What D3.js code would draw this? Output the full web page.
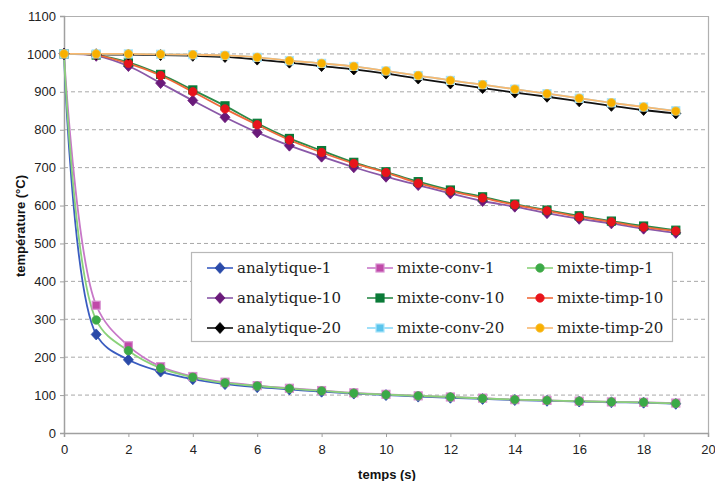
<!DOCTYPE html>
<html><head><meta charset="utf-8">
<script src="https://cdn.jsdelivr.net/npm/d3@7"></script>
<style>body{margin:0;background:#fff}svg{display:block}</style>
</head><body>
<script>
const times = [0,1,2,3,4,5,6,7,8,9,10,11,12,13,14,15,16,17,18,19];
const xTicks = [0,2,4,6,8,10,12,14,16,18,20];
const yTicks = [0,100,200,300,400,500,600,700,800,900,1000,1100];

const analytique1 = [1000,260,193,162,142,129,121,115,109,104,100,96,93,90,87,85,83,81,80,77];
const mixteConv1  = [1000,337,230,175,149,134,125,118,112,106,102,98,95,92,88,86,84,82,81,79];
const mixteTimp1  = [1000,298,217,171,147,132,124,117,111,105,101,98,95,91,88,86,84,82,81,78];

const analytique10 = [1000,995,968,923,877,833,793,758,729,701,676,654,632,612,597,580,565,553,539,528];
const mixteConv10  = [1000,997,978,946,905,863,817,777,745,714,689,663,641,623,604,588,573,559,546,535];
const mixteTimp10  = [1000,997,975,943,900,855,813,773,740,711,687,659,638,620,602,586,570,557,543,533];

const analytique20 = [1000,999,998,997,995,992,985,977,968,959,948,935,922,910,898,887,875,863,852,843];
const mixteConv20  = [1000,1000,1000,999,998,996,991,982,975,967,955,943,930,919,907,895,883,871,860,850];
const mixteTimp20  = [1000,1000,1000,999,998,996,991,982,975,967,955,943,930,919,907,895,883,871,860,849];

const seriesNames = ["analytique-1","mixte-conv-1","mixte-timp-1","analytique-10","mixte-conv-10","mixte-timp-10","analytique-20","mixte-conv-20","mixte-timp-20"];
const seriesValues = [analytique1,mixteConv1,mixteTimp1,analytique10,mixteConv10,mixteTimp10,analytique20,mixteConv20,mixteTimp20];
const lineColors = ["#3a5cc0","#c878c8","#8ad27a","#8a58a8","#2a8a48","#f06a3a","#111111","#88d8f8","#f8b870"];
const markColors = ["#2a4aa8","#c04aa8","#3aaa48","#6a1a7a","#0a7a38","#e8141c","#000000","#5ac4ec","#f8b000"];
const markStroke = ["#2a4aa8","#d890d0","#4aa848","#6a1a7a","#0a7a38","#e8141c","#000000","#a8e4fa","#f8c040"];
const markShape = ["diamond","square","circle","diamond","square","circle","diamond","square","circle"];

const W = 715, H = 481;
const svg = d3.select("body").append("svg").attr("width",W).attr("height",H);
const x = d3.scaleLinear().domain([0,20]).range([64,708]);
const y = d3.scaleLinear().domain([0,1100]).range([433,16]);

// gridlines
svg.append("g").selectAll("line").data(yTicks.filter(d=>d>0 && d<1100)).join("line")
  .attr("x1",x(0)).attr("x2",x(20)).attr("y1",d=>y(d)).attr("y2",d=>y(d))
  .attr("stroke","#a8a8a8").attr("stroke-width",1).attr("stroke-dasharray","4,3");
// frame top/right
svg.append("path").attr("d",`M${x(0)},${y(1100)+0.5}H${x(20)+0.5}V${y(0)}`)
  .attr("fill","none").attr("stroke","#b0b0b0").attr("stroke-width",1.2);

const tickFont = "'Liberation Sans', Arial, sans-serif";
const yAxis = svg.append("g").attr("transform",`translate(${x(0)},0)`)
  .call(d3.axisLeft(y).tickValues(yTicks).tickSize(4).tickPadding(4).tickFormat(d3.format("d")));
const xAxis = svg.append("g").attr("transform",`translate(0,${y(0)})`)
  .call(d3.axisBottom(x).tickValues(xTicks).tickSize(4).tickPadding(8).tickFormat(d3.format("d")));
[yAxis,xAxis].forEach(a=>{
  a.select(".domain").attr("stroke","#a0a0a0").attr("stroke-width",1.5);
  a.selectAll(".tick line").attr("stroke","#a0a0a0");
  a.selectAll("text").attr("font-family",tickFont).attr("font-size",13).attr("fill","#222");
});

svg.append("text").attr("x",387).attr("y",479).attr("text-anchor","middle")
  .attr("font-family",tickFont).attr("font-weight","bold").attr("font-size",13).attr("fill","#111").text("temps (s)");
svg.append("text").attr("transform","translate(25,226) rotate(-90)").attr("text-anchor","middle")
  .attr("font-family",tickFont).attr("font-weight","bold").attr("font-size",13).attr("fill","#111").text("température (°C)");

const line = d3.line().x((d,i)=>x(times[i])).y(d=>y(d)).curve(d3.curveCatmullRom.alpha(0.5));

function marker(g, shape, fill, stroke){
  if(shape==="diamond") g.append("path").attr("d","M0,-5.5L5,0L0,5.5L-5,0Z").attr("fill",fill).attr("stroke",stroke).attr("stroke-width",0.8);
  else if(shape==="square") g.append("rect").attr("x",-4).attr("y",-4).attr("width",8).attr("height",8).attr("fill",fill).attr("stroke",stroke).attr("stroke-width",1.2);
  else g.append("circle").attr("r",4.2).attr("fill",fill).attr("stroke",stroke).attr("stroke-width",0.8);
}

const order = [0,1,2,3,4,5,6,7,8];
order.forEach(k=>{
  svg.append("path").datum(seriesValues[k]).attr("d",line).attr("fill","none")
    .attr("stroke",lineColors[k]).attr("stroke-width",1.8);
});
order.forEach(k=>{
  seriesValues[k].forEach((v,i)=>{
    const g = svg.append("g").attr("transform",`translate(${x(times[i])},${y(v)})`);
    marker(g, markShape[k], markColors[k], markStroke[k]);
  });
});

// legend
const lg = svg.append("g");
lg.append("rect").attr("x",191.5).attr("y",252.5).attr("width",481).attr("height",89)
  .attr("fill","#fff").attr("stroke","#b8b8b8").attr("stroke-width",1.2);
const colX = [207,367,527], rowY = [268,298,328];
seriesNames.forEach((name,k)=>{
  const cx = colX[k%3], cy = rowY[Math.floor(k/3)];
  lg.append("line").attr("x1",cx).attr("x2",cx+26).attr("y1",cy).attr("y2",cy)
    .attr("stroke",lineColors[k]).attr("stroke-width",1.6);
  const g = lg.append("g").attr("transform",`translate(${cx+13},${cy})`);
  marker(g, markShape[k], markColors[k], markStroke[k]);
  lg.append("text").attr("x",cx+30).attr("y",cy).attr("dy","0.35em")
    .attr("font-family","'DejaVu Serif', 'Liberation Serif', serif").attr("font-size",15).attr("fill","#222").text(name);
});
</script>
</body></html>
